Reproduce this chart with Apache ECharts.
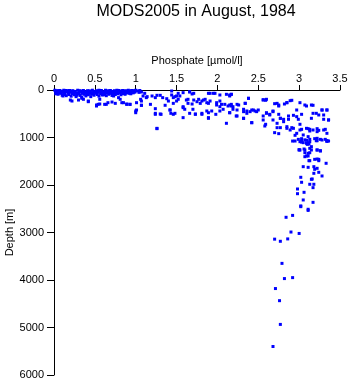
<!DOCTYPE html>
<html>
<head>
<meta charset="utf-8">
<script src="https://cdn.jsdelivr.net/npm/echarts@6/dist/echarts.min.js"></script>
<style>
  html, body { margin: 0; padding: 0; background: #fff; }
  #chart { width: 350px; height: 384px; }
</style>
</head>
<body>
<div id="chart"></div>
<script>
// Phosphate profile observations, [phosphate (µmol/l), depth (m)]
const surfaceLayer = [
  [0.01,5],[0.02,30],[0.03,60],[0.04,15],[0.05,90],[0.06,40],[0.07,10],[0.08,70],[0.09,25],[0.10,110],
  [0.11,50],[0.12,5],[0.13,80],[0.14,35],[0.15,120],[0.16,20],[0.17,60],[0.18,95],[0.19,10],[0.20,45],
  [0.21,130],[0.22,75],[0.23,15],[0.24,55],[0.25,100],[0.26,30],[0.27,140],[0.28,65],[0.29,5],[0.30,85],
  [0.31,40],[0.32,115],[0.33,20],[0.34,150],[0.35,60],[0.36,10],[0.37,90],[0.38,35],[0.39,125],[0.40,50],
  [0.41,15],[0.42,100],[0.43,70],[0.44,25],[0.45,140],[0.46,55],[0.47,5],[0.48,80],[0.49,110],[0.50,30],
  [0.51,65],[0.52,15],[0.53,95],[0.54,45],[0.55,130],[0.56,20],[0.57,75],[0.58,10],[0.59,105],[0.60,50],
  [0.61,35],[0.62,85],[0.63,5],[0.64,120],[0.65,60],[0.66,25],[0.67,90],[0.68,40],[0.69,10],[0.70,70],
  [0.71,115],[0.72,30],[0.73,55],[0.74,15],[0.75,95],[0.76,45],[0.77,5],[0.78,80],[0.79,35],[0.80,60],
  [0.81,20],[0.82,100],[0.83,50],[0.84,10],[0.85,75],[0.86,30],[0.87,90],[0.88,15],[0.89,55],[0.90,40],
  [0.91,5],[0.92,70],[0.93,25],[0.94,50],[0.95,10],[0.96,35],[0.97,60],[0.98,20],[0.99,45],[1.00,5],
  [0.02,80],[0.05,20],[0.08,45],[0.12,95],[0.15,10],[0.18,50],[0.22,25],[0.25,60],[0.28,110],[0.31,15],
  [0.34,70],[0.37,45],[0.40,95],[0.43,20],[0.46,85],[0.49,40],[0.52,60],[0.55,5],[0.58,55],[0.61,100],
  [0.64,40],[0.67,15],[0.70,30],[0.73,85],[0.76,65],[0.79,10],[0.82,40],[0.85,20],[0.88,65],[0.91,30],
  [0.94,80],[0.97,15],[1.02,20],[1.04,50],[1.05,10],[1.11,70],
  [0.11,126],[0.22,232],[0.36,196],[0.42,232],[0.52,337],[0.54,302],[0.62,302],[0.66,267],[0.71,253],
  [0.83,267],[0.89,302],[0.93,302],[1.01,267],[1.07,232],[1.00,442],[1.07,322],[0.79,161],[0.81,196],
  [0.73,126],[0.56,196],[1.13,161],[1.01,421],[1.00,478],[0.52,316],[0.56,295],[0.64,302],[0.20,211],
  [0.30,211],[0.34,175],[0.42,246],[0.75,281],[0.85,267],[0.89,295],[0.93,302]
];

const upperOcean = [
  [1.07,42],[1.09,126],[1.06,196],[1.14,140],[1.20,126],[1.24,161],[1.30,112],[1.33,161],[1.26,112],
  [1.44,21],[1.40,232],[1.38,183],[1.46,161],[1.50,126],[1.52,196],[1.50,232],[1.54,126],[1.66,42],
  [1.71,70],[1.64,196],[1.71,211],[1.77,196],[1.81,232],[1.85,196],[1.87,267],[1.91,232],[1.89,70],
  [1.95,70],[1.99,267],[2.03,232],[2.05,302],[2.11,91],[2.15,126],[2.09,302],[2.13,337],[2.17,302],
  [2.24,302],[1.07,322],[1.18,302],[1.24,393],[1.36,322],[1.42,421],[1.24,512],[1.31,512],[1.46,512],
  [1.58,582],[1.58,372],[1.60,406],[1.70,406],[1.73,512],[1.81,512],[1.89,478],[1.93,442],[1.87,442],
  [1.89,582],[1.98,512],[2.03,442],[2.07,406],[2.15,478],[2.23,547],[1.26,814],[2.11,701],
  [1.26,807],[1.24,491],[1.30,505],[1.42,421],[1.43,491],[1.48,491],
  [1.66,35],[1.69,84],[1.91,70],[1.97,70],[2.03,105],[2.15,105],[2.17,91],[2.38,175],[2.56,211],
  [2.60,196],[2.89,225],[2.82,295],[2.85,267],[2.73,281],[2.75,316],[2.97,421],[3.07,316],[3.15,316],
  [3.28,421],[3.34,421],[3.21,491],[3.30,526],[3.36,631],
  [1.44,105],[1.48,140],[1.52,70],[1.58,56],[1.46,281],[1.62,211],[1.64,281],[1.69,295],[1.75,246],
  [1.79,281],[1.83,211],[1.89,281],[1.58,351],[1.66,491],[1.73,505],[1.81,491],[1.89,596],[1.99,316],
  [2.03,351],[2.15,316],[2.19,351],[2.24,421],[2.34,281],[2.32,456],[2.36,491],[2.40,456],[2.44,421],
  [2.48,456],[2.32,596],[2.42,688],[2.60,491],[2.64,526],[2.68,456],[2.56,631],[2.68,631],[2.73,701],
  [2.77,596],[2.81,667],[2.87,617],[2.89,842],
  [2.17,91],[2.38,175],[2.56,204],[2.59,217],[2.91,217],[2.85,267],[2.70,288],[3.01,267],[2.26,316],
  [2.34,280],[2.17,337],[2.19,406],[3.09,337],[3.17,322],[2.75,337],[2.32,406],[2.36,442],[2.42,421],
  [2.46,442],[2.50,421],[2.15,478],[2.24,547],[2.32,596],[2.60,478],[2.64,512],[2.68,442],[2.56,547],
  [2.75,512],[2.77,596],[2.81,617],[2.87,547],[2.93,533],[2.97,561],[2.99,617],[3.03,512],[3.17,491],
  [3.28,421],[3.34,421],[3.15,596],[3.24,526],[3.30,617],[3.36,631],[2.42,688],[2.58,758],[2.59,722],
  [2.73,793],[2.77,793],[2.85,807],[2.91,793],[2.70,898],[2.75,919],[3.01,722],[3.03,828],[3.11,814],
  [3.13,863],[3.22,814],[3.24,849],[3.32,828],
  [2.85,772],[2.93,807],[3.01,842],[3.09,807],[3.13,828],[3.17,842],[3.22,877],[3.30,842],[3.34,912],
  [2.97,912],[3.05,947],[3.11,982],[3.22,1017],[3.28,1053],[3.34,1067],[2.95,954],[2.99,1039],
  [3.03,1025],[2.95,1074],[3.09,1060],[3.13,1039],[3.19,1025],[3.26,1039],[3.32,1039],[3.36,1074],
  [3.11,1109],[3.03,1095]
];

const deepWater = [
  [3.01,1088],[3.09,1123],[3.13,1228],[3.22,1263],[3.01,1263],[3.11,1333],[3.07,1404],[3.19,1460],
  [2.92,1075],[3.03,1088],[3.07,1050],[3.12,1137],[3.21,1067],[3.34,1080],[3.00,1263],[3.07,1263],
  [3.13,1320],[3.26,1278],[3.11,1389],[3.24,1460],[3.13,1488],[3.33,1543],[3.05,1614],[3.11,1628],
  [3.19,1670],[3.18,1754],[3.24,1733],[3.28,1810],[3.02,1838],[3.15,1880],[3.03,1943],[3.13,1985],
  [3.18,1985],[2.98,2084],[3.17,2056],[3.06,2154],[2.98,2183],[3.05,2315],[3.17,2365],[3.02,2456],
  [3.11,2511],[3.18,1614],[3.22,1649],[3.12,1488],[3.24,1488],[3.22,1453],[3.26,1284],[3.22,1263],
  [3.15,1263],[3.09,1389],[3.07,1320],[3.00,1256],[3.06,1242],[3.10,1144],[3.15,1193],[3.05,1109],
  [3.13,1088],[3.03,1074],[3.22,1067],[3.34,1074],[3.16,1874],
  [3.02,2440],[3.11,2535],[2.92,2640],[2.84,2680],[2.90,2990],[3.00,3020],[2.70,3140],[2.77,3185],
  [2.86,3135],[2.79,3650],[2.82,3970],[2.92,3950],[2.71,4180],[2.76,4435],[2.77,4935],[2.68,5400]
];

const phosphateTicks = [0, 3.5, 0.5];   // min, max, step
const depthTicks = [0, 6000, 1000];      // min, max, step

const chart = echarts.init(document.getElementById('chart'));
const FONT = 'Liberation Sans, Arial, sans-serif';
const markerStyle = { color: '#0000ff', opacity: 1 };

function scatter(data) {
  return {
    type: 'scatter',
    data: data,
    symbol: 'rect',
    symbolSize: 3,
    itemStyle: markerStyle,
    silent: true,
    animation: false
  };
}

chart.setOption({
  animation: false,
  backgroundColor: '#ffffff',
  title: {
    text: 'MODS2005 in August, 1984',
    left: 191,
    textAlign: 'center',
    top: -1,
    textStyle: { fontFamily: FONT, fontSize: 16, fontWeight: 'normal', color: '#000' }
  },
  grid: { left: 54, top: 90, width: 286, height: 285, containLabel: false, outerBoundsMode: 'none' },
  xAxis: {
    type: 'value',
    position: 'top',
    min: phosphateTicks[0], max: phosphateTicks[1], interval: phosphateTicks[2],
    name: 'Phosphate [\u00b5mol/l]',
    nameLocation: 'middle',
    nameGap: 24,
    nameTextStyle: { fontFamily: FONT, fontSize: 11, color: '#000' },
    axisLine: { show: true, lineStyle: { color: '#000', width: 1 } },
    axisTick: { show: true, length: 5, inside: false, lineStyle: { color: '#000' } },
    axisLabel: { fontFamily: FONT, fontSize: 11, color: '#000', margin: 6, formatter: v => String(v) },
    splitLine: { show: false }
  },
  yAxis: {
    type: 'value',
    inverse: true,
    min: depthTicks[0], max: depthTicks[1], interval: depthTicks[2],
    name: 'Depth [m]',
    nameLocation: 'middle',
    nameRotate: 90,
    nameGap: 39,
    nameMoveOverlap: false,
    nameTextStyle: { fontFamily: FONT, fontSize: 11, color: '#000' },
    axisLine: { show: true, lineStyle: { color: '#000', width: 1 } },
    axisTick: { show: true, length: 7, inside: false, lineStyle: { color: '#000' } },
    axisLabel: { fontFamily: FONT, fontSize: 11, color: '#000', margin: 10, formatter: v => String(v) },
    splitLine: { show: false }
  },
  series: [scatter(surfaceLayer), scatter(upperOcean), scatter(deepWater)]
});
</script>
</body>
</html>
